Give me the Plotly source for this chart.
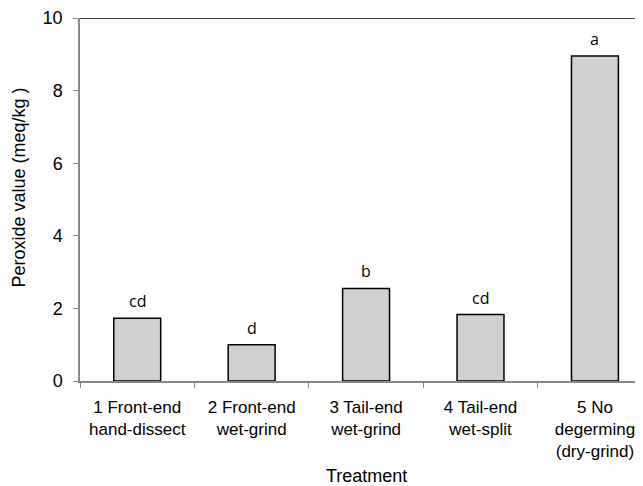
import plotly.graph_objects as go

categories = ["1 Front-end<br>hand-dissect", "2 Front-end<br>wet-grind", "3 Tail-end<br>wet-grind",
              "4 Tail-end<br>wet-split", "5 No<br>degerming<br>(dry-grind)"]
values = [1.73, 1.0, 2.55, 1.83, 8.95]
letters = ["cd", "d", "b", "cd", "a"]
y_ticks = [0, 2, 4, 6, 8, 10]

font = "Liberation Sans, Arial, sans-serif"

fig = go.Figure()
fig.add_trace(go.Bar(
    x=categories, y=values, width=0.41,
    marker=dict(color="#d0d0d0", line=dict(color="black", width=1.5)),
    showlegend=False,
))

for c, v, t in zip(categories, values, letters):
    fig.add_annotation(x=c, y=v, text=t, showarrow=False, yanchor="bottom", yshift=4,
                       font=dict(family="Open Sans, Liberation Sans, sans-serif", size=16, color="black"))

fig.add_shape(type="line", xref="paper", yref="y", x0=0, x1=1, y0=10, y1=10,
              line=dict(color="black", width=1.5))

fig.add_annotation(xref="paper", yref="paper", x=0, y=0.533, xshift=-61, textangle=-90,
                   xanchor="center", yanchor="middle",
                   text="Peroxide value (meq/kg )", showarrow=False,
                   font=dict(family=font, size=18, color="black"))

fig.add_annotation(xref="x", yref="paper", x=categories[2], y=0, yshift=-95,
                   xanchor="center", yanchor="middle",
                   text="Treatment", showarrow=False,
                   font=dict(family=font, size=18, color="black"))

fig.update_layout(
    width=635, height=478,
    margin=dict(l=72, r=0, t=10, b=105),
    plot_bgcolor="white", paper_bgcolor="white",
    font=dict(family=font, size=17, color="black"),
    bargap=0.59,
    xaxis=dict(
        type="category", range=[-0.5, 4.42], automargin=False,
        showline=True, linecolor="#888888", linewidth=1.5,
        ticks="outside", tickson="boundaries", ticklen=5, tickcolor="#888888",
        showgrid=False, tickfont=dict(size=17), ticklabelstandoff=10,
    ),
    yaxis=dict(
        range=[0, 10], tickvals=y_ticks, automargin=False,
        showline=True, linecolor="#888888", linewidth=1.5,
        ticks="outside", ticklen=5, tickcolor="#888888",
        showgrid=False, zeroline=False, tickfont=dict(size=18), ticklabelstandoff=7,
    ),
)

fig.write_html("out.html")
